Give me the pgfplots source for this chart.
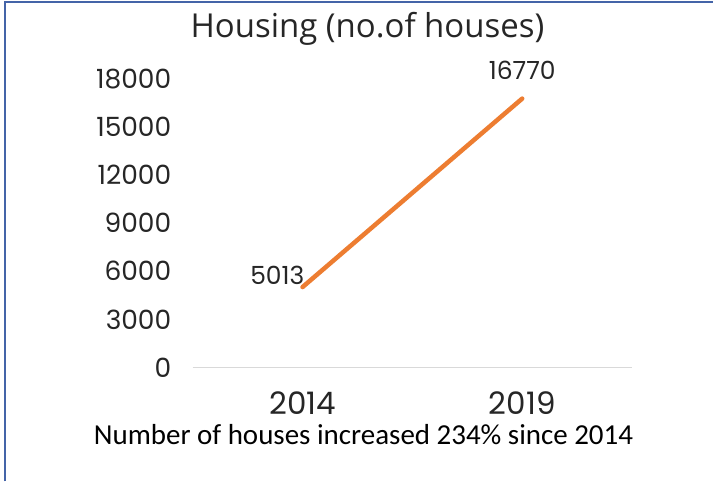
\documentclass[border=0pt]{standalone}
\usepackage{fontspec}
\setmainfont{Poppins}
\newfontfamily\titlefont{Open Sans}
\newfontfamily\capfont{Carlito}
\usepackage{pgfplots}
\pgfplotsset{compat=1.18}
\definecolor{frameblue}{RGB}{68,100,168}
\definecolor{lineorange}{RGB}{237,125,49}
\definecolor{axisgrey}{RGB}{217,217,217}
\begin{document}
\begin{tikzpicture}[x=1bp,y=1bp]
\path[fill=white] (0,0) rectangle (714,482);
\draw[frameblue, line width=2.2bp] (5,0) -- (5,480) -- (714,480);
\node[anchor=base, font=\titlefont\fontsize{33bp}{36bp}\selectfont, text=black!85] at (368,444) {Housing (no.of houses)};
\begin{axis}[
  at={(193bp,114bp)}, anchor=south west,
  scale only axis, width=440bp, height=289bp,
  xmin=-0.5, xmax=1.5, ymin=0, ymax=18000,
  axis x line=bottom, axis y line=left,
  x axis line style={axisgrey, line width=1.2bp, -},
  y axis line style={draw=none},
  major tick length=0pt,
  clip=false,
  scaled y ticks=false,
  xtick={0,1}, xticklabels={2014,2019},
  ytick={0,3000,6000,9000,12000,15000,18000},
  /pgf/number format/assume math mode=true,
  /pgf/number format/1000 sep={},
  yticklabel style={font=\fontsize{26.5bp}{30bp}\selectfont, text=black!85, anchor=east, xshift=-18bp},
  xticklabel style={font=\fontsize{31bp}{34bp}\selectfont, text=black!85, anchor=center, inner sep=0pt, yshift=-36bp},
]
\addplot[lineorange, line width=4.5bp, line cap=round] coordinates {(0,5013) (1,16770)};
\node[anchor=east, font=\fontsize{25bp}{28bp}\selectfont, text=black!85, inner sep=0pt] at (axis cs:0,5013) [xshift=2bp, yshift=12bp] {5013};
\node[anchor=center, font=\fontsize{25bp}{28bp}\selectfont, text=black!85] at (axis cs:1,16770) [yshift=28bp] {16770};
\end{axis}
\node[anchor=base, inner sep=0pt, font=\capfont\fontsize{29bp}{32bp}\selectfont] at (364,37) {Number of houses increased 234\% since 2014};
\end{tikzpicture}
\end{document}
